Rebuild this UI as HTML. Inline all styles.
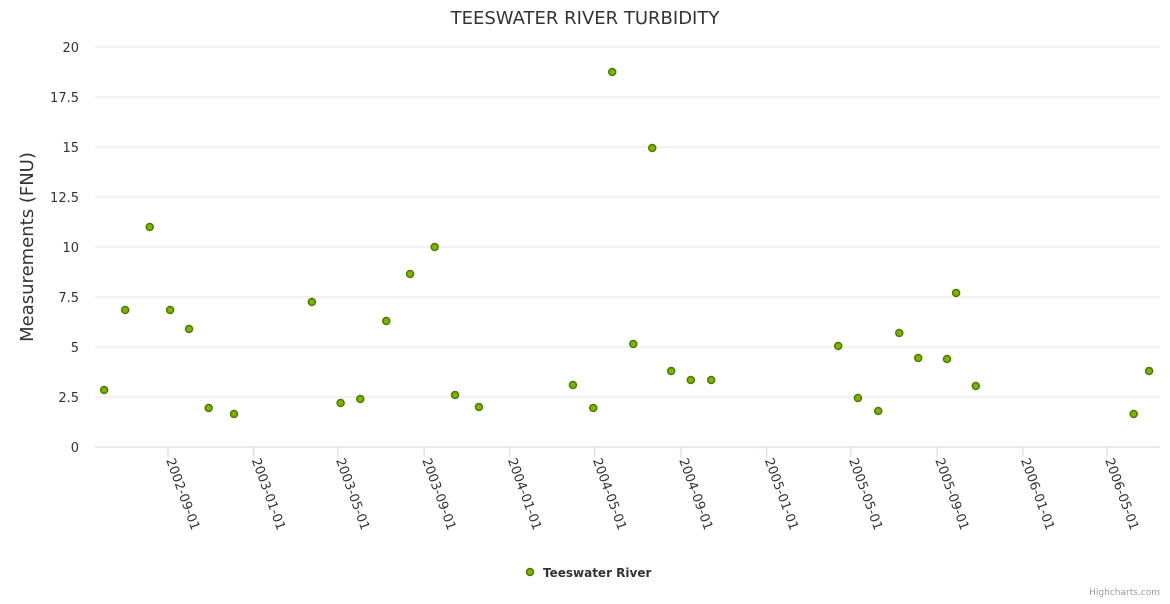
<!DOCTYPE html>
<html><head><meta charset="utf-8"><style>
body{margin:0;background:#fff;font-family:"DejaVu Sans",sans-serif}
</style></head><body>
<svg width="1170" height="600" font-family="DejaVu Sans, sans-serif" xmlns="http://www.w3.org/2000/svg">
<text x="585" y="24" text-anchor="middle" font-size="18" fill="#333">TEESWATER RIVER TURBIDITY</text>
<text transform="translate(33,247) rotate(-90)" text-anchor="middle" font-size="18" fill="#333">Measurements (FNU)</text>
<g id="grid"></g><g id="xaxis"></g><g id="pts"></g>
<g>
<circle cx="530" cy="572" r="3.5" fill="#7cb500" stroke="#4a7a00" stroke-width="1.5"/>
<text x="543" y="577" font-size="12" font-weight="bold" fill="#333">Teeswater River</text></g>
<text x="1160" y="595" text-anchor="end" font-size="9" fill="#999">Highcharts.com</text>
</svg>
<script>
const dates=["2002-06-02","2002-07-02","2002-08-06","2002-09-04","2002-10-01","2002-10-29","2002-12-04","2003-03-25","2003-05-05","2003-06-02","2003-07-09","2003-08-12","2003-09-16","2003-10-15","2003-11-18","2004-03-31","2004-04-29","2004-05-26","2004-06-25","2004-07-22","2004-08-18","2004-09-15","2004-10-14","2005-04-13","2005-05-11","2005-06-09","2005-07-09","2005-08-05","2005-09-15","2005-09-28","2005-10-26","2006-06-08","2006-06-30"];
const values=[2.85,6.85,11,6.85,5.9,1.95,1.65,7.25,2.2,2.4,6.3,8.65,10,2.6,2.0,3.1,1.95,18.75,5.15,14.95,3.8,3.35,3.35,5.05,2.45,1.8,5.7,4.45,4.4,7.7,3.05,1.65,3.8];
const yTicks=[0,2.5,5,7.5,10,12.5,15,17.5,20];
const xTicks=["2002-09-01","2003-01-01","2003-05-01","2003-09-01","2004-01-01","2004-05-01","2004-09-01","2005-01-01","2005-05-01","2005-09-01","2006-01-01","2006-05-01"];
const NS="http://www.w3.org/2000/svg";
const t0=Date.parse("2002-09-01"),t1=Date.parse("2006-05-01");
const X=d=>168+(Date.parse(d)-t0)/(t1-t0)*939;
const Y=v=>447-v*20;
function mk(tag,a,p){const e=document.createElementNS(NS,tag);for(const k in a)e.setAttribute(k,a[k]);p.appendChild(e);return e;}
const g=document.getElementById('grid');
yTicks.forEach(v=>{
 const l=mk('line',{x1:95,x2:1160,y1:Y(v),y2:Y(v),stroke:v===0?'#ccd6eb':'#e6e6e6'},g);
 
 
 const t=mk('text',{x:79,y:Y(v)+5,'text-anchor':'end','font-size':13,fill:'#333'},g);t.textContent=v;
 
 
});
const xa=document.getElementById('xaxis');
xTicks.forEach(d=>{
 const x=X(d);
 const l=mk('line',{x1:x,x2:x,y1:447,y2:457,stroke:'#ccd6eb'},xa);
 
 
 const t=mk('text',{transform:`translate(${x-2},460) rotate(70)`,'font-size':13,fill:'#333'},xa);t.textContent=d;
 
 
});
const pg=document.getElementById('pts');
dates.forEach((d,i)=>{
 const c=mk('circle',{cx:X(d),cy:Y(values[i]),r:3.5,fill:'#7cb500',stroke:'#4a7a00','stroke-width':1.5},pg);
 
 
});
</script>
</body></html>
